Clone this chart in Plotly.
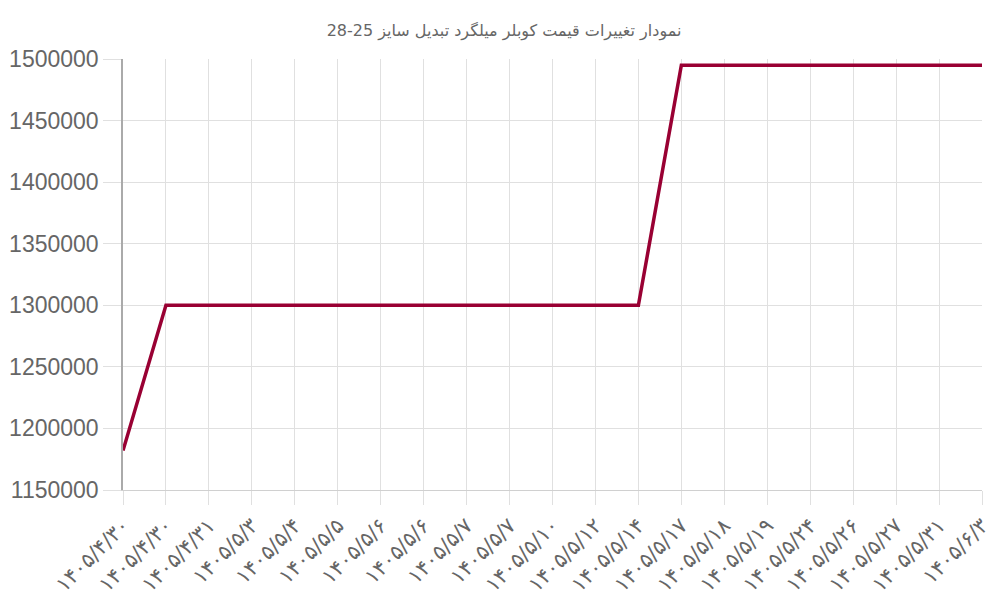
import plotly.graph_objects as go

# تاریخ‌ها (شمسی) و قیمت‌ها
dates = [
    "۱۴۰۵/۴/۳۰", "۱۴۰۵/۴/۳۰", "۱۴۰۵/۴/۳۱", "۱۴۰۵/۵/۳", "۱۴۰۵/۵/۴",
    "۱۴۰۵/۵/۵", "۱۴۰۵/۵/۶", "۱۴۰۵/۵/۶", "۱۴۰۵/۵/۷", "۱۴۰۵/۵/۷",
    "۱۴۰۵/۵/۱۰", "۱۴۰۵/۵/۱۲", "۱۴۰۵/۵/۱۴", "۱۴۰۵/۵/۱۷", "۱۴۰۵/۵/۱۸",
    "۱۴۰۵/۵/۱۹", "۱۴۰۵/۵/۲۴", "۱۴۰۵/۵/۲۶", "۱۴۰۵/۵/۲۷", "۱۴۰۵/۵/۳۱",
    "۱۴۰۵/۶/۳",
]
prices = [
    1182000, 1300000, 1300000, 1300000, 1300000,
    1300000, 1300000, 1300000, 1300000, 1300000,
    1300000, 1300000, 1300000, 1495000, 1495000,
    1495000, 1495000, 1495000, 1495000, 1495000,
    1495000,
]
positions = list(range(len(dates)))
y_ticks = [1150000, 1200000, 1250000, 1300000, 1350000, 1400000, 1450000, 1500000]

# the page has an 8px body margin, so the figure is sized to fit the window
W, H = 992, 592

fig = go.Figure()
fig.add_trace(
    go.Scatter(
        x=positions,
        y=prices,
        mode="lines",
        line=dict(color="#990033", width=3.5),
        hoverinfo="y",
    )
)

fig.update_layout(
    width=W,
    height=H,
    title=dict(
        text="نمودار تغییرات قیمت کوبلر میلگرد تبدیل سایز 25-28",
        x=0.5,
        xanchor="center",
        y=1 - 22 / H,
        yanchor="middle",
        font=dict(size=16, color="#666666", family="DejaVu Sans"),
    ),
    margin=dict(l=115, r=18, t=51, b=110),
    plot_bgcolor="white",
    paper_bgcolor="white",
    showlegend=False,
    font=dict(family="Liberation Sans"),
)

fig.update_xaxes(
    automargin=False,
    range=[0, 20],
    tickmode="array",
    tickvals=positions,
    ticktext=dates,
    tickangle=-45,
    tickfont=dict(size=21, color="#666666", family="DejaVu Sans"),
    showgrid=True,
    gridcolor="#e0e0e0",
    gridwidth=1,
    ticks="outside",
    ticklen=14,
    tickcolor="#e0e0e0",
    showline=True,
    linecolor="#d0d0d0",
    zeroline=False,
)

fig.update_yaxes(
    automargin=False,
    range=[1150000, 1500000],
    tickmode="array",
    tickvals=y_ticks,
    ticktext=[str(v) for v in y_ticks],
    tickfont=dict(size=23, color="#666666", family="Liberation Sans"),
    showgrid=True,
    gridcolor="#e0e0e0",
    gridwidth=1,
    ticks="outside",
    ticklen=18,
    tickcolor="#e0e0e0",
    showline=True,
    linecolor="#aaaaaa",
    linewidth=1.5,
    zeroline=False,
)

fig.write_html("out.html")
